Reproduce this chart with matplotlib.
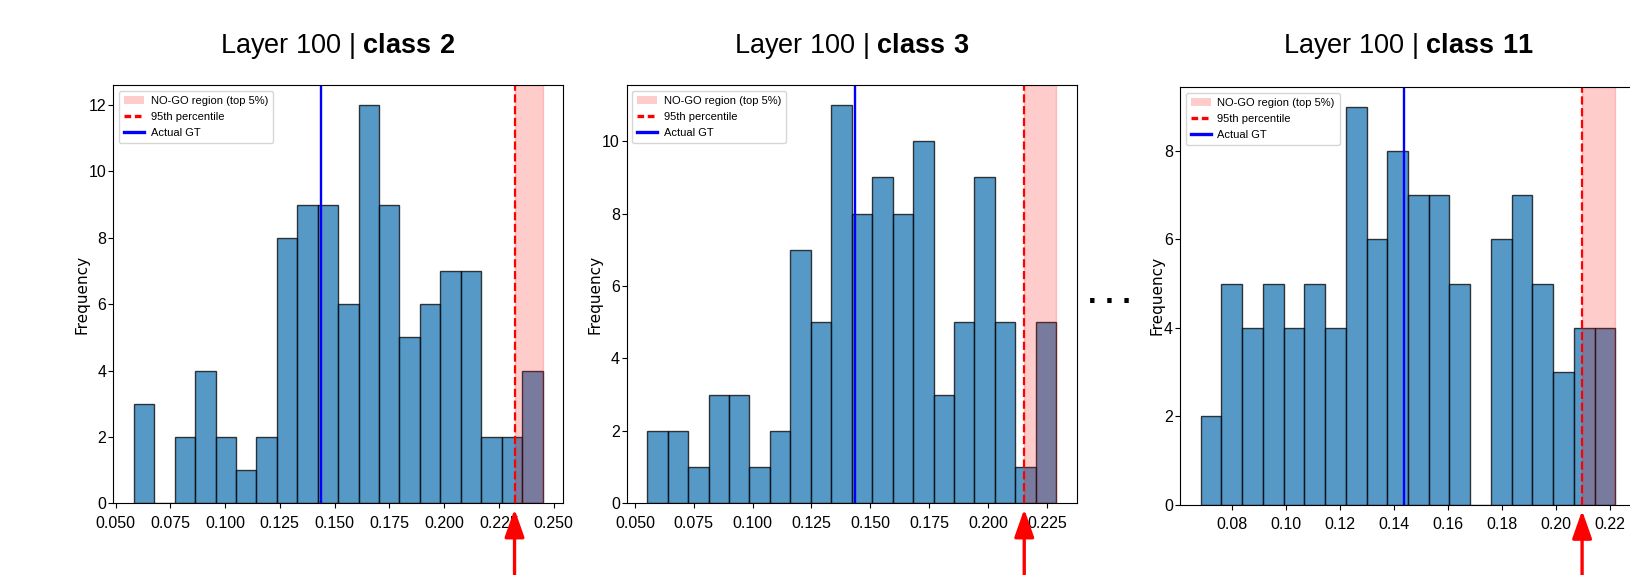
import matplotlib
matplotlib.use("Agg")
import matplotlib.pyplot as plt
import numpy as np
from matplotlib.patches import Patch
from matplotlib.lines import Line2D

plt.rcParams["mathtext.fontset"] = "custom"
plt.rcParams["mathtext.rm"] = "Liberation Sans"
plt.rcParams["mathtext.bf"] = "Liberation Sans:bold"

NARROW = ["Liberation Sans Narrow", "Liberation Sans", "DejaVu Sans"]

# data (20 equal bins per panel)
class_names = ["class 2", "class 3", "class 11"]
counts_class2 = [3, 0, 2, 4, 2, 1, 2, 8, 9, 9, 6, 12, 9, 5, 6, 7, 7, 2, 2, 4]
counts_class3 = [2, 2, 1, 3, 3, 1, 2, 7, 5, 11, 8, 9, 8, 10, 3, 5, 9, 5, 1, 5]
counts_class11 = [2, 5, 4, 5, 4, 5, 4, 9, 6, 8, 7, 7, 5, 0, 6, 7, 5, 3, 4, 4]
bin_range_class2 = (0.0583, 0.2450)
bin_range_class3 = (0.0552, 0.2290)
bin_range_class11 = (0.0684, 0.2221)
p95_values = [0.2322, 0.2154, 0.2098]
gt_values = [0.1438, 0.1437, 0.1437]
xticks_class2 = [0.050, 0.075, 0.100, 0.125, 0.150, 0.175, 0.200, 0.225, 0.250]
xticks_class3 = [0.050, 0.075, 0.100, 0.125, 0.150, 0.175, 0.200, 0.225]
xticks_class11 = [0.08, 0.10, 0.12, 0.14, 0.16, 0.18, 0.20, 0.22]
yticks_class2 = [0, 2, 4, 6, 8, 10, 12]
yticks_class3 = [0, 2, 4, 6, 8, 10]
yticks_class11 = [0, 2, 4, 6, 8]

W, H = 1630, 575
fig = plt.figure(figsize=(W / 100, H / 100), dpi=100)

# axes boxes in pixels: left, top, right, bottom
boxes = [(113.3, 85.0, 563.0, 503.3), (626.7, 85.0, 1076.7, 503.3), (1180.0, 87.0, 1636.0, 504.7)]
label_offsets = [0.054, 0.054, 0.034]

panels = zip(
    class_names,
    [counts_class2, counts_class3, counts_class11],
    [bin_range_class2, bin_range_class3, bin_range_class11],
    p95_values,
    gt_values,
    [xticks_class2, xticks_class3, xticks_class11],
    [yticks_class2, yticks_class3, yticks_class11],
    boxes,
    label_offsets,
)

for name, counts, (lo, hi), p95, gt, xticks, yticks, box, lab_off in panels:
    left, top, right, bottom = box
    ax = fig.add_axes([left / W, 1 - bottom / H, (right - left) / W, (bottom - top) / H])
    edges = np.linspace(lo, hi, len(counts) + 1)
    centers = (edges[:-1] + edges[1:]) / 2
    ax.hist(centers, bins=edges, weights=counts, color="#1f77b4", alpha=0.75,
            edgecolor="black", linewidth=1.0)
    ax.axvspan(p95, hi, color="red", alpha=0.2)
    ax.axvline(p95, color="red", linestyle="--", linewidth=1.6)
    ax.axvline(gt, color="blue", linestyle="-", linewidth=1.7)
    ax.set_xticks(xticks)
    ax.set_yticks(yticks)
    ax.set_xlim(lo - 0.05 * (hi - lo), hi + 0.05 * (hi - lo))
    ax.set_ylim(0, max(counts) * 1.05)
    ax.tick_params(axis="x", pad=5.5)
    ax.tick_params(axis="y", pad=1.5)
    for lbl in ax.get_xticklabels() + ax.get_yticklabels():
        lbl.set_family(NARROW)
        lbl.set_fontsize(11.5)
    ax.set_ylabel("Frequency", fontsize=11, family="DejaVu Sans")
    ax.yaxis.set_label_coords(-lab_off, 0.5)

    handles = [
        Patch(facecolor="red", alpha=0.2, label="NO-GO region (top 5%)"),
        Line2D([], [], color="red", linestyle=(0, (2.0, 1.1)), linewidth=2.4,
               label="95th percentile"),
        Line2D([], [], color="blue", linewidth=2.4, label="Actual GT"),
    ]
    ax.legend(handles=handles, loc="upper left", prop={"family": NARROW, "size": 8},
              handlelength=1.8, handletextpad=0.6, labelspacing=0.55, borderpad=0.45)

    cx = (left + min(right, 1636.0)) / 2
    fig.text(cx / W, 1 - 53 / H, "Layer 100 | $\\mathbf{" + name.replace(" ", "\\ ") + "}$",
             ha="center", va="baseline", fontsize=19.5, family="Liberation Sans")

    ax.annotate("", xy=(p95, -0.014), xycoords=ax.get_xaxis_transform(),
                xytext=(p95, -0.2), textcoords=ax.get_xaxis_transform(),
                arrowprops=dict(arrowstyle="-|>,head_length=0.85,head_width=0.3",
                                mutation_scale=20, color="red", lw=2.4,
                                shrinkA=0, shrinkB=0),
                annotation_clip=False)

fig.text(1109 / W, 1 - 303 / H, ". . .", ha="center", va="baseline", fontsize=22,
         fontweight="bold", family="Liberation Sans")

fig.savefig("out.png", dpi=100)
